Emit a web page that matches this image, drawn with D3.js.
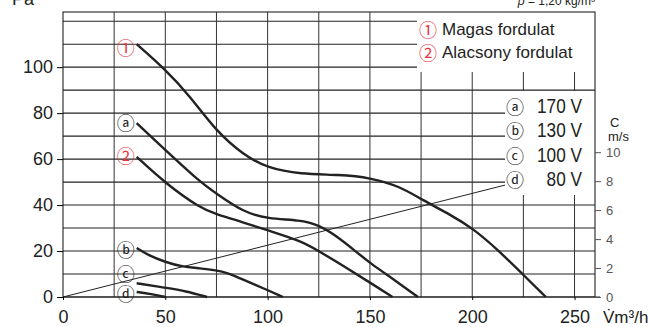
<!DOCTYPE html>
<html>
<head>
<meta charset="utf-8">
<script src="https://cdn.jsdelivr.net/npm/d3@7"></script>
<style>
  body { margin: 0; background: #fff; }
  svg { display: block; font-family: 'Liberation Sans', Arial, sans-serif; }
</style>
</head>
<body>
<div id="chart"></div>
<script>
// flow in m3/h, pressure in Pa
const flowTicks = [0, 50, 100, 150, 200, 250]
const paTicks = [0, 20, 40, 60, 80, 100]
const speedTicks = [0, 2, 4, 6, 8, 10]

const curveHigh = [[36, 110], [50, 99], [62, 87.5], [75, 72], [88, 62], [100, 56], [116, 53.5], [135, 53.2], [150, 52], [165, 48], [175, 42.5], [190, 35.5], [200, 30], [212, 21], [225, 9.6], [236, 0]]
const curveA = [[36, 75.6], [50, 64], [67, 50], [75, 45], [88, 37], [100, 34], [116, 33.5], [125, 31.3], [133, 27], [144, 19.2], [150, 14.8], [162, 7.4], [173.5, 0]]
const curveLow = [[36, 61], [50, 49.5], [67, 38.7], [75, 36], [88, 32.5], [100, 29], [116, 24.5], [125, 20], [138, 13], [150, 6.3], [161, 0]]
const curveB = [[36, 21.3], [42, 18], [50, 15.2], [58, 13.2], [67, 12.5], [75, 11.6], [80, 10.6], [88, 7.6], [100, 3], [107.5, 0]]
const curveC = [[36, 6], [50, 4], [60, 2.6], [70.4, 0]]
const curveD = [[36, 2.2], [43, 1.3], [50, 0]]

// air speed line, m/s against flow
const speedLine = [[0, 0], [225, 8.05]]

const curves = [
  { label: '①', red: true, values: curveHigh },
  { label: 'ⓐ', red: false, values: curveA },
  { label: '②', red: true, values: curveLow },
  { label: 'ⓑ', red: false, values: curveB },
  { label: 'ⓒ', red: false, values: curveC },
  { label: 'ⓓ', red: false, values: curveD }
]
// vertical nudge of the curve labels, px
const labelShift = [3, -1, -2, 1, -10, 1]

const speedNames = ['ⓐ', 'ⓑ', 'ⓒ', 'ⓓ']
const voltages = ['170 V', '130 V', '100 V', '80 V']
const speedModes = [{ label: '①', text: 'Magas fordulat' }, { label: '②', text: 'Alacsony fordulat' }]

const width = 649
const height = 327
const margin = { top: 12, right: 54, bottom: 30, left: 63 }
const red = '#e8333c'
const ink = '#222'
const circleFont = "'Noto Sans CJK JP', 'DejaVu Sans', sans-serif"

const svg = d3.select('#chart').append('svg')
  .attr('width', width)
  .attr('height', height)

const x = d3.scaleLinear().domain([0, 260]).range([margin.left, width - margin.right])
const y = d3.scaleLinear().domain([0, 124]).range([height - margin.bottom, margin.top])
const v = d3.scaleLinear().domain([0, 10]).range([height - margin.bottom, y(63)])

// grid
const grid = svg.append('g')
grid.selectAll('line.h')
  .data(d3.range(10, 121, 10))
  .enter().append('line')
  .attr('x1', x(0)).attr('x2', x(260))
  .attr('y1', d => y(d)).attr('y2', d => y(d))
  .attr('stroke', ink).attr('stroke-width', 1.1)
grid.selectAll('line.v')
  .data(d3.range(25, 251, 25))
  .enter().append('line')
  .attr('x1', d => x(d)).attr('x2', d => x(d))
  .attr('y1', y(0)).attr('y2', y(124))
  .attr('stroke', '#333').attr('stroke-width', 1)

// speed line
svg.append('path')
  .datum(speedLine)
  .attr('d', d3.line().x(d => x(d[0])).y(d => v(d[1])))
  .attr('fill', 'none')
  .attr('stroke', ink)
  .attr('stroke-width', 1)

// white legend boxes over the grid
svg.append('rect')
  .attr('x', 417).attr('y', y(124))
  .attr('width', x(260) - 417).attr('height', 60)
  .attr('fill', '#fff')
svg.append('rect')
  .attr('x', 505).attr('y', 91)
  .attr('width', x(260) - 505).attr('height', 104)
  .attr('fill', '#fff')

// curves
const line = d3.line().x(d => x(d[0])).y(d => y(d[1])).curve(d3.curveBasis)
svg.append('g').selectAll('path')
  .data(curves)
  .enter().append('path')
  .attr('d', d => line(d.values))
  .attr('fill', 'none')
  .attr('stroke', ink)
  .attr('stroke-width', 2.4)

svg.append('g').selectAll('text')
  .data(curves)
  .enter().append('text')
  .attr('x', d => x(d.values[0][0]) - 11)
  .attr('y', (d, i) => y(d.values[0][1]) + labelShift[i])
  .attr('text-anchor', 'middle')
  .attr('dominant-baseline', 'central')
  .style('font-family', circleFont)
  .style('font-size', '18px')
  .style('fill', d => d.red ? red : ink)
  .text(d => d.label)

// border
svg.append('rect')
  .attr('x', x(0)).attr('y', y(124))
  .attr('width', x(260) - x(0)).attr('height', y(0) - y(124))
  .attr('fill', 'none').attr('stroke', ink).attr('stroke-width', 1.1)

// axes
const xAxis = svg.append('g')
  .attr('transform', `translate(0,${y(0)})`)
  .call(d3.axisBottom(x).tickValues(flowTicks).tickSize(3).tickPadding(10).tickFormat(d3.format('d')))
xAxis.select('.domain').attr('d', `M${x(0)},0H${x(260) + 5}`).attr('stroke', ink)
xAxis.selectAll('text').style('font-size', '18px').style('fill', ink)

const yAxis = svg.append('g')
  .attr('transform', `translate(${x(0)},0)`)
  .call(d3.axisLeft(y).tickValues(paTicks).tickSize(6).tickPadding(4))
yAxis.select('.domain').remove()
yAxis.selectAll('text').style('font-size', '18px').style('fill', ink)

const vAxis = svg.append('g')
  .attr('transform', `translate(${x(260)},0)`)
  .call(d3.axisRight(v).tickValues(speedTicks).tickSize(6).tickPadding(5))
vAxis.select('.domain').remove()
vAxis.selectAll('line').attr('stroke', '#555')
vAxis.selectAll('text').style('font-size', '13px').style('fill', '#555')

// axis titles
svg.append('text').attr('x', 12).attr('y', 5).style('font-size', '18px').style('fill', ink).text('Pa')
svg.append('text').attr('x', 603).attr('y', 323).style('font-size', '17px').style('fill', ink).text('V̇m³/h')
svg.append('text').attr('x', 610).attr('y', 127).style('font-size', '13px').style('fill', ink).text('C')
svg.append('text').attr('x', 608).attr('y', 141).style('font-size', '13px').style('fill', ink).text('m/s')

const rho = svg.append('text').attr('x', x(260)).attr('y', 5)
  .attr('text-anchor', 'end').style('font-size', '12px').style('fill', ink)
rho.append('tspan').style('font-style', 'italic').text('ρ')
rho.append('tspan').text(' = 1,20 kg/m³')

// legend: speed modes
const modes = svg.append('g').selectAll('g')
  .data(speedModes)
  .enter().append('g')
  .attr('transform', (d, i) => `translate(0,${35 + i * 23})`)
modes.append('text')
  .attr('x', 428).attr('y', -6)
  .attr('text-anchor', 'middle')
  .attr('dominant-baseline', 'central')
  .style('font-family', circleFont)
  .style('font-size', '18px')
  .style('fill', red)
  .text(d => d.label)
modes.append('text')
  .attr('x', 442).attr('y', 0)
  .style('font-size', '17px').style('fill', ink)
  .text(d => d.text)

// legend: voltages
const volt = svg.append('g').selectAll('g')
  .data(voltages)
  .enter().append('g')
  .attr('transform', (d, i) => `translate(0,${113 + i * 24.4})`)
volt.append('text')
  .attr('x', 515).attr('y', -7)
  .attr('text-anchor', 'middle')
  .attr('dominant-baseline', 'central')
  .style('font-family', circleFont)
  .style('font-size', '18px')
  .style('fill', ink)
  .text((d, i) => speedNames[i])
volt.append('text')
  .attr('transform', 'translate(582,0) scale(0.82,1)')
  .attr('text-anchor', 'end')
  .style('font-size', '21px').style('fill', ink)
  .text(d => d)
</script>
</body>
</html>
